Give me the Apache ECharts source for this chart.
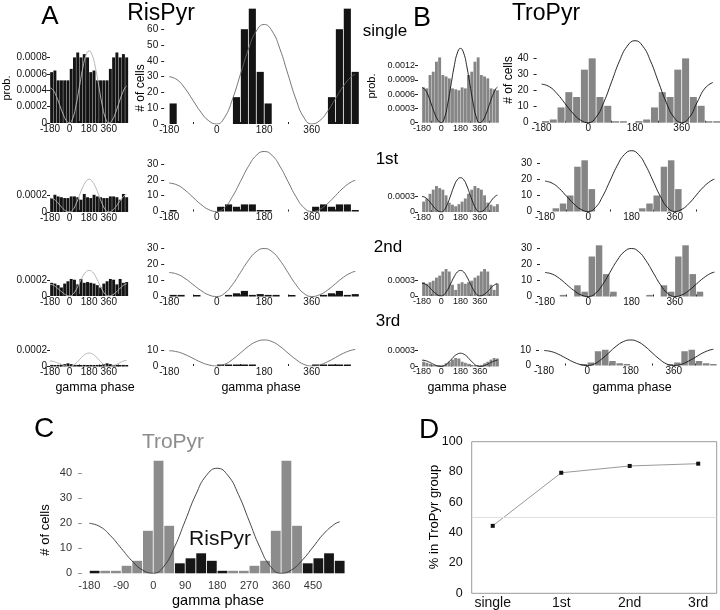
<!DOCTYPE html>
<html><head><meta charset="utf-8">
<script src="https://cdn.jsdelivr.net/npm/echarts@6/dist/echarts.min.js"></script>
<style>html,body{margin:0;padding:0;background:#fff}#c{width:720px;height:610px}</style>
</head><body><div id="c"></div>
<script>
// ---------- DATA ----------
const phaseBins = ['-180','-150','-120','-90','-60','-30','0','30','60','90','120','150','180','210','240','270','300','330','360','390','420','450','480','510'];
const phaseTickLabels = [-180, 0, 180, 360];
const phaseMinorTicks = [-90, 90, 270, 450];
const phaseTicksC = [-180, -90, 0, 90, 180, 270, 360, 450];
const curveX = [-180,-150,-120,-90,-60,-30,0,30,60,90,120,150,180,210,240,270,300,330,360,390,420,450,480,510,525];

// one gamma cycle, 12 bins of 30 deg starting at -180 (plotted twice)
const risProbSingle = [0.00062,0.00064,0.00052,0.00052,0.00052,0.00052,0.00066,0.0008,0.00086,0.0008,0.00084,0.0008];
const risProb1st    = [0.00017,0.00021,0.00019,0.00018,0.00017,0.00017,0.00019,0.00019,0.00018,0.00015,0.00022,0.00018];
const risProb2nd    = [0.00017,0.00016,0.00014,0.00011,0.00016,0.00019,0.00022,0.00021,0.00015,0.00022,0.00017,0.00018];
const risProb3rd    = [0.00002,0.00001,0.00002,0.00002,0.00003,0.00004,0.00003,0.00002,0.00002,0.00001,0.00002,0.00001];
const risCellsSingle = [13,0,0,0,0,0,0,0,17,60,73,33];
const risCells1st    = [0.5,0,0,0,0,0,3,4.5,3,4.5,4.5,0.5];
const risCells2nd    = [1,1,0,0.6,0,0,0,1,2,3.5,1,1.5];
const risCells3rd    = [0,0,0,0,0,0,0.8,0.6,0.6,0.6,0.6,0];
const troProbSingle = [0.00074,0.00072,0.001,0.00107,0.00128,0.00137,0.001,0.00097,0.00093,0.00072,0.0007,0.00068];
const troProb1st    = [0.0002,0.00026,0.00035,0.00043,0.0005,0.00046,0.00043,0.00032,0.00018,0.00014,0.00011,0.00015];
const troProb2nd    = [0.00027,0.00024,0.00027,0.0003,0.00036,0.0004,0.00048,0.00053,0.00048,0.00022,0.00012,0.00024];
const troProb3rd    = [0.00009,0.00007,0.00005,0.00003,0.00002,0.00001,0.00003,0.00006,0.00009,0.00013,0.00016,0.00015];
const troCellsSingle = [1,2,9.5,19,16,33,40,16,10.5,0.4,0.4,0];
const troCells1st    = [0,2,5,10,28,32,14,0,0,0,0,0];
const troCells2nd    = [0,0,1,0,7,3,25,32,14,3,0,0];
const troCells3rd    = [0,0,0,0,0,0.5,2,9.5,10.5,3,1.5,0.6];
const pooledTroPyr = [0,1,1,3,5,17,45,19,0,0,0,0];
const pooledRisPyr = [1,0,0,0,0,0,0,0,4,6,8,5];

// reference gamma waveform, read at curveX
const curveRisProbSingle = [.00043,.0004,.00032,.000215,.00011,.00003,0,.00006,.00022,.00044,.00066,.00082,.00088,.00082,.00066,.00044,.00022,.00006,0,.00003,.000115,.00023,.000345,.00043,.00045];
const curveRisProb1st    = [.00017,.00016,.00013,.000085,.00004,.00001,0,.000027,.0001,.0002,.0003,.00037,.0004,.00037,.0003,.0002,.0001,.000027,0,.000015,.000055,.00011,.000165,.000205,.000216];
const curveRisProb2nd    = [.00015,.00014,.00011,.000075,.00004,.00001,0,.000022,.00008,.000165,.00025,.00031,.00033,.00031,.00025,.000165,.00008,.000022,0,.00001,.00004,.00008,.00012,.00015,.000157];
const curveRisProb3rd    = [.00007,.000065,.00005,.000035,.000018,.000005,0,.000011,.000043,.000085,.000128,.000159,.00017,.000159,.000128,.000085,.000043,.000011,0,.000005,.00002,.00004,.00006,.000075,.000079];
const curveRisCellsSingle = [30,28,22.5,15,7.5,2,0,4.2,15.8,31.5,47.3,58.8,63,58.8,47.3,31.5,15.8,4.2,0,2.1,8,16,24,29.9,31.5];
const curveRisCells1st    = [18,16.8,13.5,9,4.5,1.2,0,2.5,9.5,19,28.5,35.5,38,35.5,28.5,19,9.5,2.5,0,1.3,5,10,15,18.7,19.7];
const curveRisCells2nd    = [15,14,11.3,7.5,3.8,1,0,2,7.5,15,22.5,28,30,28,22.5,15,7.5,2,0,1.1,4,8,12,14.9,15.7];
const curveRisCells3rd    = [10,9.3,7.5,5,2.5,0.7,0,1.1,4.3,8.5,12.8,15.9,17,15.9,12.8,8.5,4.3,1.1,0,0.7,2.8,5.5,8.3,10.3,10.8];
const curveTroProbSingle = [.00074,.00069,.00056,.00037,.000185,.00005,0,.0001,.00039,.00078,.00117,.00146,.00156,.00146,.00117,.00078,.00039,.0001,0,.00005,.00019,.00038,.00057,.00071,.00075];
const curveTroProb1st    = [.0003,.00028,.000225,.00015,.000075,.00002,0,.000044,.000165,.00033,.0005,.00062,.00066,.00062,.0005,.00033,.000165,.000044,0,.000022,.000083,.000165,.00025,.00031,.000325];
const curveTroProb2nd    = [.00025,.000233,.00019,.000125,.000063,.000017,0,.000034,.000125,.00025,.000375,.00047,.0005,.00047,.000375,.00025,.000125,.000034,0,.000017,.000063,.000125,.00019,.000233,.000246];
const curveTroProb3rd    = [.00012,.000112,.00009,.00006,.00003,.000008,0,.000017,.000063,.000125,.00019,.000233,.00025,.000233,.00019,.000125,.000063,.000017,0,.000008,.00003,.00006,.00009,.000112,.000118];
const curveTroCellsSingle = [24,22.4,18,12,6,1.6,0,3.4,12.8,25.5,38.3,47.6,51,47.6,38.3,25.5,12.8,3.4,0,3.4,12.8,21.5,25,'-','-'];
const curveTroCells1st    = [19,17.7,14.3,9.5,4.8,1.3,0,2.5,9.5,19,28.5,35.5,38,35.5,28.5,19,9.5,2.5,0,1.4,5.1,10.3,15.4,19.1,20.2];
const curveTroCells2nd    = [15,14,11.3,7.5,3.8,1,0,2,7.5,15,22.5,28,30,28,22.5,15,7.5,2,0,1,3.9,7.8,11.6,14.5,15.2];
const curveTroCells3rd    = [10,9.3,7.5,5,2.5,0.7,0,1.1,4.3,8.5,12.8,15.9,17,15.9,12.8,8.5,4.3,1.1,0,0.7,2.8,5.5,8.3,10.3,10.8];
const curvePooled = [20,18.7,15,10,5,1.3,0,2.8,10.5,21,31.5,39.2,42,39.2,31.5,21,10.5,2.8,0,1.4,5.3,10.5,15.8,19.6,20.6];

const groupLabels = ['single','1st','2nd','3rd'];
const pctTroPyr = [44.5, 79.5, 84, 85.5];
const chanceLevel = 50;

const probTicksA1 = [0,0.0002,0.0004,0.0006,0.0008];
const probTicksA = [0,0.0002];
const probTicksB1 = [0,0.0003,0.0006,0.0009,0.0012];
const probTicksB = [0,0.0003];
const cellTicks60 = [0,10,20,30,40,50,60];
const cellTicks40 = [0,10,20,30,40];
const cellTicks30 = [0,10,20,30];
const cellTicks10 = [0,10];

// ---------- BUILD ----------
const FONT = '"Liberation Sans", Arial, Helvetica, sans-serif';
const cyc = a => a.concat(a);
const grids = [], xAxes = [], yAxes = [], series = [];
const NOLINE = {show: false, onZero: false};

function addHist(p) {
  const gi = grids.length;
  const h = p.yMax * p.ppu;
  grids.push({left: p.xL, top: p.y0 - h, width: p.xR - p.xL, height: h, containLabel: false, outerBoundsMode: 'none'});
  const xv = xAxes.length;
  xAxes.push({type: 'value', gridIndex: gi, position: 'bottom', min: -180, max: 540, splitLine: {show: false}, axisLine: NOLINE,
    axisTick: {show: true, inside: true, length: 2, customValues: phaseMinorTicks, lineStyle: {color: '#222', width: 1}},
    axisLabel: {customValues: phaseTickLabels, fontSize: p.fs, margin: 1, color: '#111', fontFamily: FONT}});
  const xc = xAxes.length;
  xAxes.push({type: 'category', gridIndex: gi, position: 'bottom', data: phaseBins, show: false, axisLine: NOLINE});
  const yi = yAxes.length;
  yAxes.push({type: 'value', gridIndex: gi, position: 'left', min: 0, max: p.yMax, offset: p.yOff, splitLine: {show: false}, axisLine: NOLINE,
    axisTick: {show: true, length: 3, customValues: p.yTicks, lineStyle: {color: '#222'}},
    axisLabel: {customValues: p.yTicks, fontSize: p.fs, margin: p.yMargin, color: '#111', fontFamily: FONT, formatter: v => String(v)}});
  series.push({type: 'bar', xAxisIndex: xc, yAxisIndex: yi, data: cyc(p.bars).map(v => v === 0 ? '-' : v),
    barCategoryGap: '10%', barMinHeight: 1.5, itemStyle: {color: p.barColor}, silent: true, z: 2});
  series.push({type: 'line', xAxisIndex: xv, yAxisIndex: yi, data: curveX.map((x, i) => [x, p.curve[i]]),
    smooth: 0.5, symbol: 'none', lineStyle: {color: p.curveColor, width: p.curveWidth || 1}, silent: true, z: 3});
}

const BLK = '#141414', GRY = '#858585';
const AS = {xL: 50, xR: 128.3, fs: 10, yOff: 0, yMargin: 3, barColor: BLK, curveColor: '#b4b4b4'};
const AB = {xL: 169.2, xR: 359.2, fs: 10, yOff: 5, yMargin: 6, barColor: BLK, curveColor: '#666', curveWidth: 0.9};
const BS = {xL: 422, xR: 499, fs: 9, yOff: 4, yMargin: 3, barColor: GRY, curveColor: '#111', curveWidth: 0.9};
const BB = {xL: 545, xR: 718, fs: 10, yOff: 5, yMargin: 8, barColor: GRY, curveColor: '#111', curveWidth: 0.9};

const panels = [
  {...AS, y0: 123, ppu: 82000, yMax: 0.0009, yTicks: probTicksA1, bars: risProbSingle, curve: curveRisProbSingle},
  {...AS, y0: 212, ppu: 82000, yMax: 0.00042, yTicks: probTicksA, bars: risProb1st, curve: curveRisProb1st},
  {...AS, y0: 296, ppu: 77500, yMax: 0.00036, yTicks: probTicksA, bars: risProb2nd, curve: curveRisProb2nd},
  {...AS, y0: 366.5, ppu: 79000, yMax: 0.0002, yTicks: probTicksA, bars: risProb3rd, curve: curveRisProb3rd},
  {...AB, y0: 124, ppu: 1.58, yMax: 75, yTicks: cellTicks60, bars: risCellsSingle, curve: curveRisCellsSingle},
  {...AB, y0: 211.5, ppu: 1.58, yMax: 40, yTicks: cellTicks30, bars: risCells1st, curve: curveRisCells1st},
  {...AB, y0: 296.5, ppu: 1.6, yMax: 31, yTicks: cellTicks30, bars: risCells2nd, curve: curveRisCells2nd},
  {...AB, y0: 366, ppu: 1.53, yMax: 18, yTicks: cellTicks10, bars: risCells3rd, curve: curveRisCells3rd},
  {...BS, y0: 122.7, ppu: 47667, yMax: 0.0016, yTicks: probTicksB1, bars: troProbSingle, curve: curveTroProbSingle},
  {...BS, y0: 212, ppu: 52000, yMax: 0.00068, yTicks: probTicksB, bars: troProb1st, curve: curveTroProb1st},
  {...BS, y0: 296, ppu: 51000, yMax: 0.00057, yTicks: probTicksB, bars: troProb2nd, curve: curveTroProb2nd},
  {...BS, y0: 366.5, ppu: 53000, yMax: 0.0003, yTicks: probTicksB, bars: troProb3rd, curve: curveTroProb3rd},
  {...BB, xL: 541.6, xR: 728.4, y0: 122.7, ppu: 1.608, yMax: 52, yTicks: cellTicks40, bars: troCellsSingle, curve: curveTroCellsSingle},
  {...BB, y0: 211.5, ppu: 1.6, yMax: 39, yTicks: cellTicks30, bars: troCells1st, curve: curveTroCells1st},
  {...BB, y0: 296.5, ppu: 1.6, yMax: 33, yTicks: cellTicks30, bars: troCells2nd, curve: curveTroCells2nd},
  {...BB, xL: 544, xR: 717, y0: 365.5, ppu: 1.5, yMax: 18, yTicks: cellTicks10, bars: troCells3rd, curve: curveTroCells3rd},
];
panels.forEach(addHist);

// ----- panel C -----
(function () {
  const gi = grids.length;
  grids.push({left: 89.3, top: 460.8, width: 255.7, height: 112.5, containLabel: false, outerBoundsMode: 'none'});
  const xv = xAxes.length;
  xAxes.push({type: 'value', gridIndex: gi, position: 'bottom', min: -180, max: 540, splitLine: {show: false}, axisLine: NOLINE, axisTick: {show: false},
    axisLabel: {customValues: phaseTicksC, fontSize: 11, margin: 7, color: '#333', fontFamily: FONT}});
  const xc = xAxes.length;
  xAxes.push({type: 'category', gridIndex: gi, position: 'bottom', data: phaseBins, show: false, axisLine: NOLINE});
  const yi = yAxes.length;
  yAxes.push({type: 'value', gridIndex: gi, position: 'left', min: 0, max: 45, offset: 7.3, splitLine: {show: false}, axisLine: NOLINE,
    axisTick: {show: true, length: 4, customValues: cellTicks40, lineStyle: {color: '#999'}},
    axisLabel: {customValues: cellTicks40, fontSize: 11, margin: 10, color: '#333', fontFamily: FONT}});
  series.push({type: 'bar', xAxisIndex: xc, yAxisIndex: yi, data: cyc(pooledTroPyr).map(v => v === 0 ? '-' : v),
    barCategoryGap: '8%', barGap: '-100%', itemStyle: {color: '#8c8c8c'}, silent: true});
  series.push({type: 'bar', xAxisIndex: xc, yAxisIndex: yi, data: cyc(pooledRisPyr).map(v => v === 0 ? '-' : v),
    barCategoryGap: '8%', barGap: '-100%', itemStyle: {color: '#161616'}, silent: true});
  series.push({type: 'line', xAxisIndex: xv, yAxisIndex: yi, data: curveX.map((x, i) => [x, curvePooled[i]]),
    smooth: 0.5, symbol: 'none', lineStyle: {color: '#333', width: 0.9}, silent: true, z: 3});
})();

// ----- panel D -----
(function () {
  const gi = grids.length;
  grids.push({left: 471.7, top: 441.7, width: 245, height: 151.6, show: true, borderColor: '#9a9a9a', borderWidth: 1,
    backgroundColor: 'transparent', containLabel: false, outerBoundsMode: 'none'});
  const xv = xAxes.length;
  xAxes.push({type: 'value', gridIndex: gi, position: 'bottom', min: -0.307, max: 3.27, splitLine: {show: false}, axisLine: NOLINE, axisTick: {show: false},
    axisLabel: {customValues: [0, 1, 2, 3], formatter: v => groupLabels[Math.round(v)], fontSize: 14, margin: 3, color: '#111', fontFamily: FONT}});
  const yi = yAxes.length;
  yAxes.push({type: 'value', gridIndex: gi, position: 'left', min: 0, max: 100, interval: 20, splitLine: {show: false}, axisLine: NOLINE, axisTick: {show: false},
    axisLabel: {fontSize: 12.5, margin: 9, color: '#111', fontFamily: FONT}});
  series.push({type: 'line', xAxisIndex: xv, yAxisIndex: yi, data: groupLabels.map((g, i) => [i, pctTroPyr[i]]),
    symbol: 'rect', symbolSize: 4, itemStyle: {color: '#111'}, lineStyle: {color: '#9a9a9a', width: 1}, silent: true, z: 3,
    markLine: {silent: true, symbol: ['none', 'none'], label: {show: false}, lineStyle: {color: '#e0e0e0', type: 'solid', width: 1},
      data: [{yAxis: chanceLevel}]}});
})();

// ----- texts -----
const T = (text, x, y, size, o = {}) => ({type: 'text', x, y, rotation: o.rot || 0, silent: true, z: 10,
  style: {text, font: `${size}px ${FONT}`, fill: o.color || '#000', align: 'center', verticalAlign: 'middle'}});
const R = Math.PI / 2;
const graphic = [
  T('A', 50, 17, 26), T('RisPyr', 161, 14, 23), T('B', 422, 19, 27), T('TroPyr', 546, 14, 23),
  T('single', 385, 31, 17), T('1st', 387, 159, 17), T('2nd', 388, 247, 17), T('3rd', 388, 321, 17),
  T('prob.', 7, 88, 11, {rot: R}), T('prob.', 372, 86, 11, {rot: R}),
  T('# of cells', 141, 88, 12, {rot: R}), T('# of cells', 509, 80, 12, {rot: R}),
  T('gamma phase', 95, 388, 12.5), T('gamma phase', 261, 388, 12.5), T('gamma phase', 467, 388, 12.5), T('gamma phase', 632, 388, 12.5),
  T('C', 44, 429, 28), T('TroPyr', 173, 442, 21, {color: '#8c8c8c'}), T('RisPyr', 220, 539, 21, {color: '#111'}),
  T('# of cells', 45, 530, 13, {rot: R}), T('gamma phase', 218, 601, 14.5),
  T('D', 429, 430, 28), T('% in TroPyr group', 434, 517, 13, {rot: R}),
];

const chart = echarts.init(document.getElementById('c'), null, {renderer: 'canvas', width: 720, height: 610});
chart.setOption({animation: false, backgroundColor: '#fff', textStyle: {fontFamily: FONT},
  grid: grids, xAxis: xAxes, yAxis: yAxes, series, graphic});
</script>
</body></html>
